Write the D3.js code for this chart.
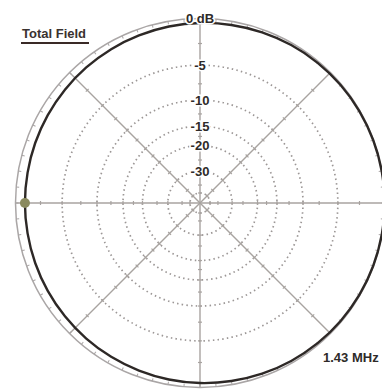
<!DOCTYPE html>
<html>
<head>
<meta charset="utf-8">
<script src="https://cdn.jsdelivr.net/npm/d3@7"></script>
<style>
  body { margin: 0; background: #fff; }
  text { font-family: "Liberation Sans", Arial, sans-serif; }
</style>
</head>
<body>
<div id="chart"></div>
<script>
// dados do diagrama (azimute em graus, 0 = topo, sentido horário)
const ringDb = [-5, -10, -15, -20, -30, -50];
const ringLabels = ["-5", "-10", "-15", "-20", "-30"];
const spokeAngles = [0, 45, 90, 135];
const patternAz = [0, 10, 20, 30, 40, 50, 60, 70, 80, 90, 100, 110,
  120, 130, 140, 150, 160, 170, 180, 190, 200, 210, 220, 230,
  240, 250, 260, 270, 280, 290, 300, 310, 320, 330, 340, 350];
const patternDb = [-0.42, -0.35, -0.27, -0.2, -0.14, -0.09, -0.05, -0.02, 0, 0, 0, -0.02,
  -0.05, -0.09, -0.14, -0.2, -0.27, -0.35, -0.42, -0.5, -0.58, -0.65, -0.72, -0.78,
  -0.83, -0.87, -0.9, -0.9, -0.9, -0.87, -0.83, -0.78, -0.72, -0.65, -0.58, -0.5];
const peakAz = 270;
const peakDb = -0.9;
const seriesName = "Total Field";
const freqLabel = "1.43 MHz";

const width = 382, height = 389;
const cx = 200, cy = 203, R = 184.5;

const svg = d3.select("#chart").append("svg")
  .attr("width", width)
  .attr("height", height);

const g = svg.append("g").attr("transform", `translate(${cx},${cy})`);

// escala logarítmica estilo ARRL: raio cai 0.89 a cada 2 dB
const rLog = d3.scaleLog()
  .domain([R * Math.pow(0.89, 25), R])
  .range([-50, 0]);
const r = db => rLog.invert(db);

const toRad = d3.scaleLinear().domain([0, 360]).range([0, 2 * Math.PI]);

// anéis pontilhados
g.selectAll(".ring").data(ringDb).join("circle")
  .attr("class", "ring")
  .attr("r", d => r(d))
  .attr("fill", "none")
  .attr("stroke", "#9c9796")
  .attr("stroke-width", 1.7)
  .attr("stroke-dasharray", "1.5 3.2");

// raios (linhas através do centro)
g.selectAll(".spoke").data(spokeAngles).join("line")
  .attr("class", "spoke")
  .attr("x1", d => -R * Math.sin(toRad(d)))
  .attr("y1", d => R * Math.cos(toRad(d)))
  .attr("x2", d => R * Math.sin(toRad(d)))
  .attr("y2", d => -R * Math.cos(toRad(d)))
  .attr("stroke", "#a8a3a0")
  .attr("stroke-width", 1.4);

// marcas pequenas ao longo dos raios
const tickDb = [-2.5, -5, -7.5, -10, -12.5, -15, -17.5, -20, -25, -30, -40, -50];
const spokeTicks = [];
spokeAngles.forEach(a => {
  [a, a + 180].forEach(az => tickDb.forEach(db => spokeTicks.push({ az, db })));
});
g.selectAll(".stick").data(spokeTicks).join("line")
  .attr("class", "stick")
  .attr("transform", d => `rotate(${d.az}) translate(0,${-r(d.db)})`)
  .attr("x1", -2).attr("x2", 2)
  .attr("stroke", "#a8a3a0")
  .attr("stroke-width", 1.2);

// círculo de 0 dB com marcas
g.append("circle")
  .attr("r", R)
  .attr("fill", "none")
  .attr("stroke", "#aaa6a6")
  .attr("stroke-width", 1.5);

g.selectAll(".otick").data(d3.range(0, 360, 5)).join("line")
  .attr("class", "otick")
  .attr("transform", d => `rotate(${d})`)
  .attr("y1", -R).attr("y2", -R + 3)
  .attr("stroke", "#aaa6a6")
  .attr("stroke-width", 1);

// curva do diagrama
const pts = patternAz.map((az, i) => [toRad(az), r(patternDb[i])]);
const radial = d3.lineRadial().curve(d3.curveCatmullRomClosed);
g.append("path")
  .attr("d", radial(pts))
  .attr("fill", "none")
  .attr("stroke", "#2d2826")
  .attr("stroke-width", 2.4);

// marcador do máximo
g.append("circle")
  .attr("cx", r(peakDb) * Math.sin(toRad(peakAz)))
  .attr("cy", -r(peakDb) * Math.cos(toRad(peakAz)))
  .attr("r", 5)
  .attr("fill", "#8a8a5e");

// rótulos dos anéis
g.selectAll(".rlabel").data(ringLabels).join("text")
  .attr("class", "rlabel")
  .attr("x", 0)
  .attr("y", (d, i) => -r(ringDb[i]))
  .attr("dy", "0.36em")
  .attr("text-anchor", "middle")
  .attr("font-size", 13)
  .attr("font-weight", "bold")
  .attr("fill", "#2e2a28")
  .attr("stroke", "#fff")
  .attr("stroke-width", 3)
  .attr("paint-order", "stroke")
  .text(d => d);

g.append("text")
  .attr("x", 0)
  .attr("y", -R + 4)
  .attr("text-anchor", "middle")
  .attr("font-size", 13)
  .attr("font-weight", "bold")
  .attr("fill", "#2e2a28")
  .attr("stroke", "#fff")
  .attr("stroke-width", 3)
  .attr("paint-order", "stroke")
  .text("0 dB");

// legenda
svg.append("text")
  .attr("x", 22)
  .attr("y", 38)
  .attr("font-size", 13)
  .attr("font-weight", "bold")
  .attr("fill", "#3a3230")
  .text(seriesName);

svg.append("line")
  .attr("x1", 21).attr("x2", 89)
  .attr("y1", 43).attr("y2", 43)
  .attr("stroke", "#3a2a26")
  .attr("stroke-width", 2);

svg.append("text")
  .attr("x", 323)
  .attr("y", 362)
  .attr("font-size", 13)
  .attr("font-weight", "bold")
  .attr("fill", "#2e2a28")
  .text(freqLabel);
</script>
</body>
</html>
